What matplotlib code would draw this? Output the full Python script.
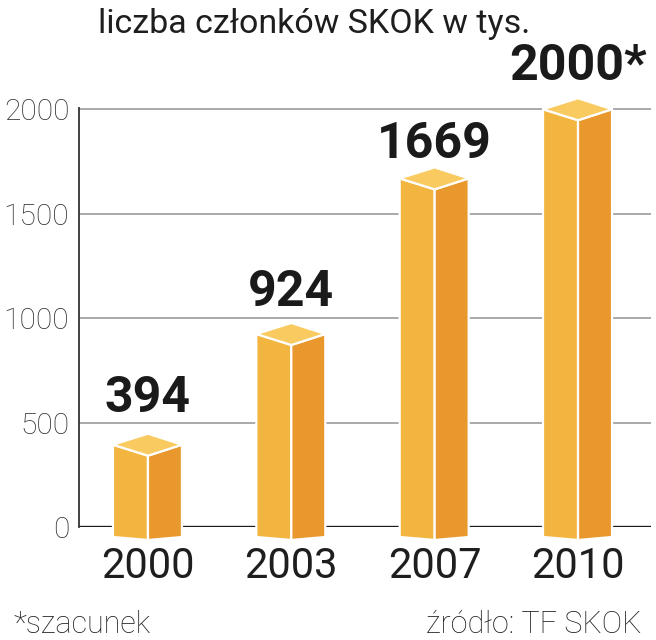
import matplotlib
matplotlib.use("Agg")
import matplotlib.pyplot as plt
from matplotlib.patches import Polygon
from matplotlib.transforms import blended_transform_factory

# data
years = ["2000", "2003", "2007", "2010"]
members = [394, 924, 1669, 2000]
value_labels = ["394", "924", "1669", "2000*"]
y_ticks = [0, 500, 1000, 1500, 2000]

title = "liczba członków SKOK w tys."
note_left = "*szacunek"
note_right = "źródło: TF SKOK"

# styling
FRONT = "#F2B640"
SIDE = "#E8982D"
TOP = "#F8CA5F"
label_pad = [157, 134, 98, 140]   # label baseline above bar value, data units

plt.rcParams["font.family"] = ["Roboto", "DejaVu Sans"]

W, H = 656, 640
fig = plt.figure(figsize=(W / 100, H / 100), dpi=100)

ax_l, ax_r, ax_b, ax_t = 79, 651, 527, 108   # pixel box of the plot area
ax = fig.add_axes([ax_l / W, 1 - ax_b / H, (ax_r - ax_l) / W, (ax_b - ax_t) / H])

x0, x1 = -0.481, 3.509
y0, y1 = 0, 2006
ax.set_xlim(x0, x1)
ax.set_ylim(y0, y1)

# pixel -> data unit factors
sx = (x1 - x0) / (ax_r - ax_l)
sy = (y1 - y0) / (ax_b - ax_t)

for v in y_ticks[1:]:
    ax.axhline(v, color="#a3a3a3", lw=1.3, zorder=1)
ax.axhline(0, color="#1c1c1c", lw=2.4, zorder=2)

for i, v in enumerate(members):
    c = i
    lw_, rw_ = 35 * sx, 34 * sx
    dt = 11 * sy
    bl, bf = -10 * sy, -13 * sy
    front = [(c - lw_, bl), (c - lw_, v), (c, v - dt), (c, bf)]
    side = [(c, bf), (c, v - dt), (c + rw_, v), (c + rw_, bl)]
    top = [(c - lw_, v), (c, v + dt), (c + rw_, v), (c, v - dt)]
    for pts, col in [(front, FRONT), (side, SIDE), (top, TOP)]:
        ax.add_patch(Polygon(pts, closed=True, facecolor=col, edgecolor="white",
                             lw=1.6, joinstyle="miter", clip_on=False, zorder=3))
    ax.text(c, v + label_pad[i], value_labels[i], ha="center", va="baseline",
            fontsize=36, fontweight="bold", color="#1a1a1a", zorder=4)

ax.set_yticks(y_ticks)
ax.set_yticklabels([str(t) for t in y_ticks], fontsize=21.5, fontweight="light",
                   color="#2e2e2e")
ax.tick_params(axis="y", length=0, pad=7)
ax.set_xticks([])

trans = blended_transform_factory(ax.transData, ax.transAxes)
for i, yr in enumerate(years):
    ax.text(i, (ax_b - 578) / (ax_b - ax_t), yr, transform=trans, ha="center",
            va="baseline", fontsize=30, color="#1e1e1e")

for s in ["top", "right", "bottom"]:
    ax.spines[s].set_visible(False)
ax.spines["left"].set_color("#333333")
ax.spines["left"].set_linewidth(1.3)

fig.text(98 / W, 1 - 33 / H, title, ha="left", va="baseline", fontsize=24.5,
         color="#1e1e1e")
fig.text(14 / W, 1 - 633 / H, note_left, ha="left", va="baseline", fontsize=22,
         fontweight="light", color="#222222")
fig.text(641 / W, 1 - 633 / H, note_right, ha="right", va="baseline", fontsize=22,
         fontweight="light", color="#222222")

fig.savefig("out.png", dpi=100)
